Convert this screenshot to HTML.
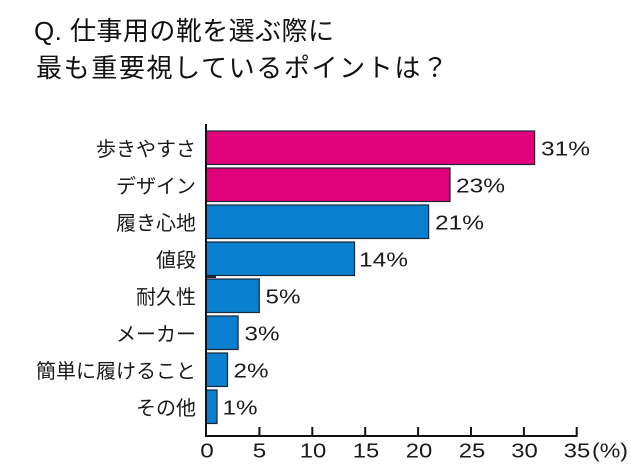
<!DOCTYPE html>
<html><head><meta charset="utf-8"><style>
html,body{margin:0;padding:0;background:#fff;}
svg{display:block;}
.t{font-family:"Liberation Sans","Noto Sans CJK JP",sans-serif;fill:#111;}
.c{font-family:"Liberation Sans","Noto Sans CJK JP",sans-serif;fill:#1a1a1a;font-size:20px;}
.n{font-family:"Liberation Sans",sans-serif;fill:#1a1a1a;font-size:20px;}
</style></head><body>
<svg width="640" height="475" viewBox="0 0 640 475" xmlns="http://www.w3.org/2000/svg">
<rect width="640" height="475" fill="#fff"/>
<text class="t" x="34" y="40" font-size="26" textLength="300" lengthAdjust="spacing">Q. 仕事用の靴を選ぶ際に</text>
<text class="t" x="36" y="77" font-size="26" textLength="412" lengthAdjust="spacing">最も重要視しているポイントは？</text>

<g stroke="#1b2636" stroke-width="1.2">
<rect x="206" y="131" width="328.6" height="33.5" fill="#E1007A"/>
<rect x="206" y="168" width="244" height="33.5" fill="#E1007A"/>
<rect x="206" y="205" width="222.6" height="33.5" fill="#0A7FCF"/>
<rect x="206" y="242" width="148.5" height="33.5" fill="#0A7FCF"/>
<rect x="206" y="279" width="53.3" height="33.5" fill="#0A7FCF"/>
<rect x="206" y="316" width="32.1" height="33.5" fill="#0A7FCF"/>
<rect x="206" y="353" width="21.5" height="33.5" fill="#0A7FCF"/>
<rect x="206" y="390" width="11" height="33.5" fill="#0A7FCF"/>
</g>
<rect x="206" y="276" width="10" height="2" fill="#1b2636"/>

<!-- axes -->
<rect x="205" y="124" width="2" height="313" fill="#111"/>
<rect x="205" y="435" width="372.5" height="2" fill="#111"/>
<g fill="#111">
<rect x="258.4" y="427" width="2" height="9"/>
<rect x="311.3" y="427" width="2" height="9"/>
<rect x="364.2" y="427" width="2" height="9"/>
<rect x="417.1" y="427" width="2" height="9"/>
<rect x="470" y="427" width="2" height="9"/>
<rect x="522.9" y="427" width="2" height="9"/>
<rect x="575.7" y="427" width="2" height="9"/>
</g>

<!-- tick labels -->
<g class="n" text-anchor="middle">
<text x="207" y="457.5" textLength="13.5" lengthAdjust="spacingAndGlyphs">0</text>
<text x="259.5" y="457.5" textLength="13.5" lengthAdjust="spacingAndGlyphs">5</text>
<text x="313" y="457.5" textLength="26.5" lengthAdjust="spacingAndGlyphs">10</text>
<text x="366" y="457.5" textLength="26.5" lengthAdjust="spacingAndGlyphs">15</text>
<text x="419" y="457.5" textLength="26.5" lengthAdjust="spacingAndGlyphs">20</text>
<text x="472" y="457.5" textLength="26.5" lengthAdjust="spacingAndGlyphs">25</text>
<text x="524.5" y="457.5" textLength="26.5" lengthAdjust="spacingAndGlyphs">30</text>
<text x="577" y="457.5" textLength="26.5" lengthAdjust="spacingAndGlyphs">35</text>
</g>
<text class="n" x="592" y="457.5" font-size="18" textLength="36" lengthAdjust="spacingAndGlyphs">(%)</text>

<!-- category labels -->
<g class="c" text-anchor="end">
<text x="196" y="156">歩きやすさ</text>
<text x="196" y="193">デザイン</text>
<text x="196" y="230">履き心地</text>
<text x="196" y="267">値段</text>
<text x="196" y="304">耐久性</text>
<text x="196" y="341">メーカー</text>
<text x="196" y="378">簡単に履けること</text>
<text x="196" y="415">その他</text>
</g>

<!-- value labels -->
<g class="n">
<text x="541" y="155.5" textLength="49" lengthAdjust="spacingAndGlyphs">31%</text>
<text x="456" y="192.5" textLength="49" lengthAdjust="spacingAndGlyphs">23%</text>
<text x="435" y="229.5" textLength="49" lengthAdjust="spacingAndGlyphs">21%</text>
<text x="359" y="266.5" textLength="49" lengthAdjust="spacingAndGlyphs">14%</text>
<text x="265.5" y="303.5" textLength="35" lengthAdjust="spacingAndGlyphs">5%</text>
<text x="244.5" y="340.5" textLength="35" lengthAdjust="spacingAndGlyphs">3%</text>
<text x="233.5" y="377.5" textLength="35" lengthAdjust="spacingAndGlyphs">2%</text>
<text x="222.5" y="414.5" textLength="35" lengthAdjust="spacingAndGlyphs">1%</text>
</g>
</svg>
</body></html>
